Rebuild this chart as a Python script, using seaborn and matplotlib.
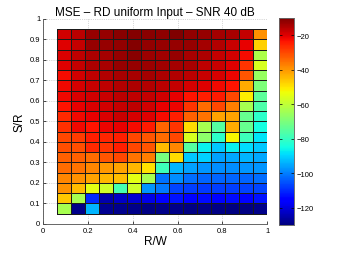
import numpy as np
import matplotlib
matplotlib.use('Agg')
import matplotlib.pyplot as plt
import seaborn as sns

# MSE in dB, rows from S/R = 0.90-0.95 (top) down to 0.05-0.10 (bottom),
# 15 columns from R/W = 1/16 to 1
mse_db = [
    [-18.5, -16.1, -12.6, -12.6, -11.4, -10.8, -11.4, -11.5, -10.2, -11.9, -12.6, -13.8, -14.4, -17.3, -39.1],
    [-20.3, -17.3, -12.6, -12.6, -12.0, -10.8, -12.0, -12.4, -12.6, -12.6, -13.8, -15.6, -17.9, -20.9, -47.3],
    [-19.7, -16.7, -15.0, -13.8, -12.6, -11.4, -13.2, -13.5, -12.6, -14.4, -15.0, -17.3, -18.5, -22.6, -62.6],
    [-20.3, -17.3, -15.0, -14.4, -12.6, -12.6, -13.2, -13.6, -13.8, -14.4, -16.7, -17.9, -20.3, -27.4, -56.8],
    [-22.6, -18.5, -16.7, -15.6, -14.4, -14.4, -13.8, -15.0, -15.6, -16.1, -17.9, -19.1, -21.5, -32.0, -66.2],
    [-22.0, -19.1, -17.9, -16.7, -15.6, -15.0, -15.6, -16.5, -17.3, -19.1, -20.3, -22.0, -23.2, -42.6, -69.7],
    [-22.0, -19.7, -18.5, -17.9, -16.1, -16.7, -17.3, -18.5, -20.9, -23.2, -25.0, -24.4, -29.7, -50.9, -74.4],
    [-23.2, -20.9, -19.7, -18.5, -17.3, -16.7, -18.5, -20.9, -21.5, -27.4, -34.4, -29.7, -36.8, -63.8, -76.8],
    [-26.2, -22.0, -20.9, -19.7, -17.9, -19.1, -20.3, -22.6, -25.0, -33.2, -35.6, -41.5, -41.5, -73.2, -81.5],
    [-27.0, -22.0, -23.2, -21.5, -20.9, -22.6, -24.4, -33.8, -27.4, -48.5, -63.8, -75.6, -42.6, -73.2, -85.0],
    [-29.7, -28.5, -25.0, -25.5, -25.0, -29.7, -32.0, -34.4, -29.7, -56.8, -67.4, -81.5, -52.0, -79.1, -88.0],
    [-30.9, -30.9, -26.2, -27.4, -25.0, -29.7, -32.0, -45.0, -37.9, -75.6, -86.8, -91.5, -86.8, -89.1, -91.5],
    [-33.2, -33.2, -34.4, -32.0, -29.7, -35.6, -36.8, -70.9, -48.5, -91.5, -90.3, -96.2, -95.0, -93.8, -95.0],
    [-34.4, -35.6, -37.9, -40.3, -41.5, -43.8, -49.7, -79.1, -93.8, -96.2, -97.4, -98.5, -98.5, -97.4, -97.4],
    [-37.9, -39.1, -41.5, -43.8, -45.0, -55.0, -63.8, -101.5, -98.5, -102.1, -103.2, -103.2, -103.2, -103.2, -102.1],
    [-39.1, -45.0, -55.0, -58.0, -77.9, -58.0, -97.4, -100.9, -106.8, -107.9, -108.4, -107.9, -107.9, -107.4, -106.8],
    [-46.2, -63.8, -110.3, -125.0, -122.7, -121.5, -119.1, -116.0, -113.0, -115.0, -114.0, -115.0, -114.0, -115.0, -113.0],
    [-63.8, -128.6, -93.8, -128.0, -128.5, -129.0, -129.5, -129.0, -129.0, -129.5, -129.0, -129.5, -130.0, -129.5, -129.0],
]
rw_ticks = [0, 0.2, 0.4, 0.6, 0.8, 1]
sr_ticks = [0, 0.1, 0.2, 0.3, 0.4, 0.5, 0.6, 0.7, 0.8, 0.9, 1]
cbar_ticks = [-20, -40, -60, -80, -100, -120]

plt.rcParams['font.family'] = ['Liberation Sans', 'DejaVu Sans']

fig = plt.figure(figsize=(3.39, 2.55), dpi=100)
ax = fig.add_axes([0.127, 0.118, 0.661, 0.804])
cax = fig.add_axes([0.823, 0.114, 0.045, 0.812])

# bottom row first so the y axis runs upwards
data = np.array(mse_db)[::-1]
sns.heatmap(data, ax=ax, cbar_ax=cax, cmap='jet', vmin=-130, vmax=-10,
            linewidths=0.4, linecolor=(0.1, 0.1, 0.1), square=False)

# map R/W and S/R to heatmap cell coordinates
ax.set_xlim(-1, 15)
ax.set_ylim(-1, 19)
ax.set_xticks([x * 16 - 1 for x in rw_ticks])
ax.set_xticklabels([f'{x:g}' for x in rw_ticks], rotation=0)
ax.set_yticks([y * 20 - 1 for y in sr_ticks])
ax.set_yticklabels([f'{y:g}' for y in sr_ticks], rotation=0)
ax.tick_params(direction='in', length=2, width=0.5, labelsize=5.5, pad=2,
               top=False, right=False)
ax.set_axisbelow(True)
ax.grid(True, linestyle=':', color='0.7', linewidth=0.5)
for side in ['left', 'bottom']:
    ax.spines[side].set_visible(True)
    ax.spines[side].set_linewidth(0.6)
    ax.spines[side].set_color('0.3')
for side in ['top', 'right']:
    ax.spines[side].set_visible(False)

ax.set_xlabel('R/W', fontsize=8.5, labelpad=1)
ax.set_ylabel('S/R', fontsize=8.5, labelpad=3)
ax.set_title('MSE \u2013 RD uniform Input \u2013 SNR 40 dB', fontsize=8.5, pad=3)

cax.set_yticks(cbar_ticks)
cax.tick_params(direction='in', length=2, width=0.5, labelsize=5.5, pad=2,
                left=True, right=True)
for s in cax.spines.values():
    s.set_visible(True)
    s.set_linewidth(0.5)
    s.set_color('0.4')

fig.savefig('out.png', dpi=100)
